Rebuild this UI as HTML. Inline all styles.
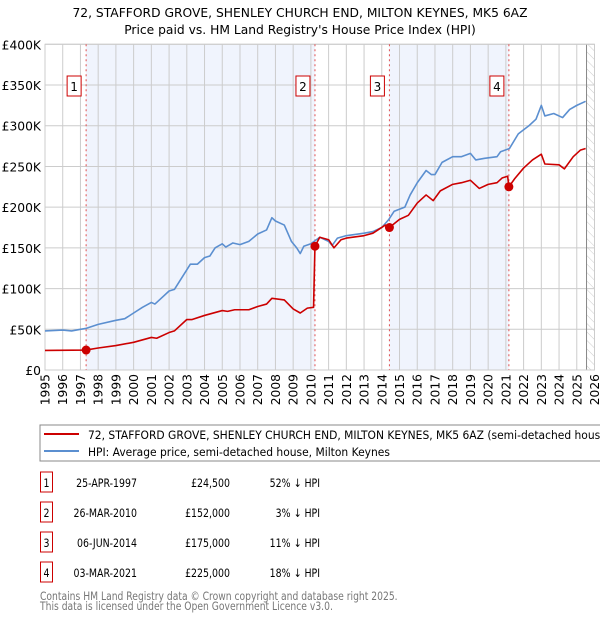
<!DOCTYPE html>
<html><head><meta charset="utf-8"><style>
body{margin:0;background:#fff;font-family:"DejaVu Sans","Liberation Sans",sans-serif;}
svg{display:block}
</style></head><body>
<svg id="chart" width="600" height="620" xmlns="http://www.w3.org/2000/svg" font-family="DejaVu Sans, Liberation Sans, sans-serif">
<defs><pattern id="hatch" width="6" height="6" patternUnits="userSpaceOnUse" patternTransform="rotate(-45)"><line x1="0" y1="0" x2="0" y2="6" stroke="#ccc" stroke-width="1"/></pattern></defs>
<text x="300" y="17" text-anchor="middle" font-size="12.3">72, STAFFORD GROVE, SHENLEY CHURCH END, MILTON KEYNES, MK5 6AZ</text>
<text x="300" y="34" text-anchor="middle" font-size="12.3">Price paid vs. HM Land Registry's House Price Index (HPI)</text>
<g id="plot"></g>
<g>
<rect x="40" y="425" width="570" height="36" fill="#fff" stroke="#888"/>
<line x1="44" y1="434" x2="79" y2="434" stroke="#cc0000" stroke-width="2"/>
<text transform="translate(88,439) scale(0.94,1)" font-size="11.4">72, STAFFORD GROVE, SHENLEY CHURCH END, MILTON KEYNES, MK5 6AZ (semi-detached house)</text>
<line x1="44" y1="451" x2="79" y2="451" stroke="#5b8fd0" stroke-width="2"/>
<text transform="translate(88,456) scale(0.94,1)" font-size="11.4">HPI: Average price, semi-detached house, Milton Keynes</text>
</g>
<g id="table" font-size="11.5"></g>
<text transform="translate(40,600) scale(0.8,1)" font-size="11.5" fill="#777">Contains HM Land Registry data © Crown copyright and database right 2025.</text>
<text transform="translate(40,610) scale(0.8,1)" font-size="11.5" fill="#777">This data is licensed under the Open Government Licence v3.0.</text>
</svg>
<script>
const hpiYears=[1995,1996,1996.5,1997,1997.3,1998,1999,1999.5,2000,2000.5,2001,2001.2,2001.5,2002,2002.3,2003,2003.2,2003.6,2004,2004.3,2004.6,2005,2005.2,2005.6,2006,2006.5,2007,2007.5,2007.8,2008,2008.5,2008.9,2009.2,2009.4,2009.6,2010,2010.5,2011,2011.2,2011.5,2012,2013,2013.5,2014,2014.4,2014.7,2015.3,2015.6,2016,2016.5,2016.8,2017,2017.4,2018,2018.5,2019,2019.3,2019.8,2020.5,2020.7,2021.2,2021.7,2022.3,2022.7,2023,2023.2,2023.7,2024.2,2024.6,2025,2025.5];
const hpiValues=[48,49,48,50,51,56,61,63,70,77,83,81,87,97,99,123,130,130,138,140,150,155,151,156,154,158,167,172,187,183,178,158,150,143,152,155,163,158,153,162,165,168,170,175,185,195,200,215,230,245,240,240,255,262,262,266,258,260,262,268,272,290,300,308,325,312,315,310,320,325,330];
const priceYears=[1995,1997.3,1998,1999,2000,2001,2001.3,2002,2002.3,2003,2003.3,2004,2005,2005.3,2005.7,2006.5,2007,2007.5,2007.8,2008.5,2009,2009.4,2009.8,2010.15,2010.23,2010.5,2011,2011.3,2011.7,2012,2013,2013.5,2014.2,2014.43,2015,2015.5,2016,2016.5,2016.9,2017.3,2018,2018.5,2019,2019.5,2020,2020.5,2020.8,2021.1,2021.17,2021.5,2022,2022.5,2023,2023.2,2024,2024.3,2024.8,2025.2,2025.5];
const priceValues=[24,24.5,27,30,34,40,39,46,48,62,62,67,73,72,74,74,78,81,88,86,75,70,76,77,152,163,160,150,160,162,165,168,178,175,185,190,205,215,208,220,228,230,233,223,228,230,236,238,225,235,248,258,265,253,252,247,262,270,272];
const saleLabels=["1","2","3","4"];
const saleYears=[1997.32,2010.23,2014.43,2021.17];
const saleValues=[24.5,152,175,225];
const saleDates=["25-APR-1997","26-MAR-2010","06-JUN-2014","03-MAR-2021"];
const salePrices=["£24,500","£152,000","£175,000","£225,000"];
const saleDiffs=["52% ↓ HPI","3% ↓ HPI","11% ↓ HPI","18% ↓ HPI"];
const yTicks=[0,50,100,150,200,250,300,350,400];
const yTickLabels=["£0","£50K","£100K","£150K","£200K","£250K","£300K","£350K","£400K"];
const xTicks=[1995,1996,1997,1998,1999,2000,2001,2002,2003,2004,2005,2006,2007,2008,2009,2010,2011,2012,2013,2014,2015,2016,2017,2018,2019,2020,2021,2022,2023,2024,2025,2026];

const L=45,R=594.5,T=44.3,B=370,X0=1995,X1=2026,Ymax=400;
const sx=y=>L+(y-X0)/(X1-X0)*(R-L);
const sy=v=>B-v/Ymax*(B-T);
const NS="http://www.w3.org/2000/svg";
const plot=document.getElementById('plot');
function mk(tag,attrs,parent){const e=document.createElementNS(NS,tag);for(const k in attrs)e.setAttribute(k,attrs[k]);(parent||plot).appendChild(e);return e;}
for(let i=0;i<saleYears.length;i+=2){
  const x2=i+1<saleYears.length?sx(saleYears[i+1]):R;
  const b=mk('rect',{x:sx(saleYears[i]),y:T,width:x2-sx(saleYears[i]),height:B-T,fill:'#f0f4fd'});
  
  
}
const hz=mk('rect',{x:sx(2025.55),y:T,width:R-sx(2025.55),height:B-T,fill:'url(#hatch)'});


yTicks.forEach((v,i)=>{
  const g=mk('line',{x1:L,x2:R,y1:sy(v),y2:sy(v),stroke:'#ccc','stroke-width':1});
  
  
  const t=mk('text',{x:L-4,y:sy(v)+5,'text-anchor':'end','font-size':12.3});
  t.textContent=yTickLabels[i];
  
  
});
xTicks.forEach(y=>{
  const g=mk('line',{x1:sx(y),x2:sx(y),y1:T,y2:B,stroke:'#ccc','stroke-width':1});
  
  
  const t=mk('text',{x:0,y:0,'text-anchor':'end','font-size':12.3,transform:`translate(${sx(y)+4.5},${B+4}) rotate(-90)`});
  t.textContent=y;
  
  
});
const ed=mk('line',{x1:sx(2025.55),x2:sx(2025.55),y1:T,y2:B,stroke:'#888','stroke-width':1});


const bd=mk('rect',{x:L,y:T,width:R-L,height:B-T,fill:'none',stroke:'#ccc'});


saleYears.forEach((y,i)=>{
  const l=mk('line',{x1:sx(y),x2:sx(y),y1:T,y2:B,stroke:'#e05050','stroke-width':1,'stroke-dasharray':'2,3'});
  
  
  const r=mk('rect',{x:sx(y)-19,y:76,width:14,height:20,fill:'#fff',stroke:'#cc0000'});
  
  
  const t=mk('text',{x:sx(y)-12,y:91,'text-anchor':'middle','font-size':12});
  t.textContent=saleLabels[i];
  
  
});
function line(xs,vs,color,name){
  const p=mk('polyline',{points:xs.map((x,i)=>sx(x)+','+sy(vs[i])).join(' '),fill:'none',stroke:color,'stroke-width':1.6,'stroke-linejoin':'round'});
  
  
}
line(hpiYears,hpiValues,'#5b8fd0','hpi-line');
line(priceYears,priceValues,'#cc0000','price-paid-line');
saleYears.forEach((y,i)=>{
  const c=mk('circle',{cx:sx(y),cy:sy(saleValues[i]),r:4.5,fill:'#cc0000'});
  
  
});
const tb=document.getElementById('table');
saleLabels.forEach((s,i)=>{
  const y=483+i*30;
  const r=mk('rect',{x:40.5,y:y-11,width:12,height:20,fill:'#fff',stroke:'#cc0000'},tb);
  
  
  const cells=[[46.5,'middle',s],[137,'end',saleDates[i]],[230,'end',salePrices[i]],[320,'end',saleDiffs[i]]];
  cells.forEach(c=>{
    const t=mk('text',{transform:`translate(${c[0]},${y+4}) scale(0.82,1)`,'text-anchor':c[1]},tb);
    t.textContent=c[2];
    
    
  });
});
</script>
</body></html>
